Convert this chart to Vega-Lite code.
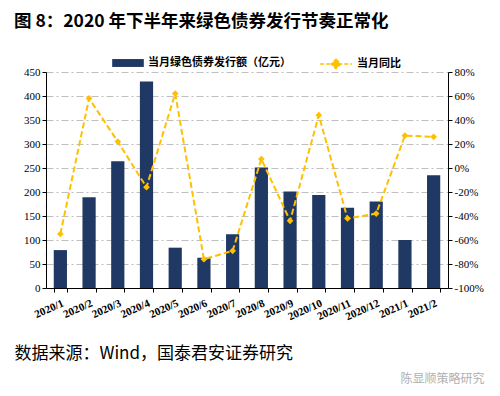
{
  "$schema": "https://vega.github.io/schema/vega-lite/v6.json",
  "width": 402,
  "height": 216,
  "autosize": "none",
  "padding": {"left": 46, "top": 72, "right": 52, "bottom": 108},
  "background": "white",
  "config": {"view": {"stroke": null}},
  "title": {
    "text": "图 8：2020 年下半年来绿色债券发行节奏正常化",
    "anchor": "start",
    "frame": "group",
    "dx": -32,
    "offset": 17,
    "font": "Noto Sans CJK SC",
    "fontSize": 17.5,
    "fontWeight": "bold",
    "color": "#000000"
  },
  "data": {
    "values": [
      {"month": "2020/1", "amount": 79, "yoy": -55},
      {"month": "2020/2", "amount": 189, "yoy": 58},
      {"month": "2020/3", "amount": 264, "yoy": 22},
      {"month": "2020/4", "amount": 430, "yoy": -16},
      {"month": "2020/5", "amount": 84, "yoy": 62},
      {"month": "2020/6", "amount": 63, "yoy": -76},
      {"month": "2020/7", "amount": 112, "yoy": -69},
      {"month": "2020/8", "amount": 251, "yoy": 7.5},
      {"month": "2020/9", "amount": 201, "yoy": -44},
      {"month": "2020/10", "amount": 194, "yoy": 44},
      {"month": "2020/11", "amount": 167, "yoy": -42},
      {"month": "2020/12", "amount": 180, "yoy": -38},
      {"month": "2021/1", "amount": 100, "yoy": 27},
      {"month": "2021/2", "amount": 235, "yoy": 26}
    ]
  },
  "encoding": {
    "x": {
      "field": "month",
      "type": "ordinal",
      "sort": null,
      "scale": {"paddingInner": 0.54, "paddingOuter": 0.27},
      "axis": {
        "title": "数据来源：Wind，国泰君安证券研究",
        "titleFont": "Noto Sans CJK SC",
        "titleFontSize": 17,
        "titleFontWeight": "normal",
        "titleColor": "#000000",
        "titleAnchor": "start",
        "titleAlign": "left",
        "titleBaseline": "middle",
        "titleX": -32,
        "titleY": 65,
        "labelAngle": -24,
        "labelAlign": "right",
        "labelBaseline": "top",
        "labelFont": "Liberation Serif",
        "labelFontWeight": "bold",
        "labelFontSize": 11,
        "labelColor": "#000000",
        "labelPadding": 5,
        "domainColor": "#000000",
        "tickColor": "#000000",
        "tickBand": "extent",
        "tickSize": 4,
        "ticks": true
      }
    }
  },
  "layer": [
    {
      "mark": {"type": "bar", "color": "#1F3864"},
      "encoding": {
        "y": {
          "field": "amount",
          "type": "quantitative",
          "scale": {"domain": [0, 450], "nice": false},
          "axis": {
            "orient": "left",
            "title": null,
            "values": [0, 50, 100, 150, 200, 250, 300, 350, 400, 450],
            "grid": true,
            "gridColor": "#BFBFBF",
            "gridDash": [7, 3, 2, 3],
            "gridWidth": 1,
            "labelFont": "Liberation Serif",
            "labelFontSize": 11,
            "labelColor": "#000000",
            "domainColor": "#000000",
            "tickColor": "#000000",
            "tickSize": 4
          }
        },
        "fill": {
          "datum": "当月绿色债券发行额（亿元）",
          "scale": {"range": ["#1F3864"]},
          "legend": {
            "title": null,
            "orient": "none",
            "legendX": 66,
            "legendY": -25,
            "symbolType": "M-1,-0.25H1V0.25H-1Z",
            "symbolSize": 1000,
            "symbolStrokeWidth": 0,
            "labelFont": "Noto Sans CJK SC",
            "labelFontSize": 11,
            "labelFontWeight": "bold",
            "labelColor": "#000000",
            "labelOffset": 4
          }
        }
      }
    },
    {
      "mark": {"type": "line", "strokeWidth": 2, "strokeDash": [6, 3]},
      "encoding": {
        "y": {
          "field": "yoy",
          "type": "quantitative",
          "scale": {"domain": [-100, 80], "nice": false},
          "axis": {
            "orient": "right",
            "title": "陈显顺策略研究",
            "titleAngle": 0,
            "titleX": -6,
            "titleY": 306,
            "titleAlign": "center",
            "titleBaseline": "middle",
            "titleFont": "Noto Sans CJK SC",
            "titleFontSize": 12,
            "titleFontWeight": "normal",
            "titleColor": "#B0B0B0",
            "values": [-100, -80, -60, -40, -20, 0, 20, 40, 60, 80],
            "labelExpr": "datum.value + '%'",
            "grid": false,
            "labelFont": "Liberation Serif",
            "labelFontSize": 11,
            "labelColor": "#000000",
            "domainColor": "#000000",
            "tickColor": "#000000",
            "tickSize": 4
          }
        },
        "stroke": {
          "datum": "当月同比",
          "scale": {"range": ["#FFC000"]},
          "legend": {
            "title": null,
            "orient": "none",
            "legendX": 273,
            "legendY": -25,
            "symbolType": "M-1,0H1M0,-0.3L0.3,0L0,0.3L-0.3,0Z",
            "symbolSize": 1000,
            "symbolFillColor": "#FFC000",
            "symbolStrokeWidth": 1.5,
            "symbolDash": [4, 2],
            "labelFont": "Noto Sans CJK SC",
            "labelFontSize": 11,
            "labelFontWeight": "bold",
            "labelColor": "#000000",
            "labelOffset": 4
          }
        }
      }
    },
    {
      "mark": {"type": "point", "shape": "diamond", "filled": true, "size": 45, "color": "#FFC000", "opacity": 1},
      "encoding": {
        "y": {"field": "yoy", "type": "quantitative", "scale": {"domain": [-100, 80], "nice": false}, "axis": null}
      }
    }
  ],
  "resolve": {"scale": {"y": "independent"}}
}
